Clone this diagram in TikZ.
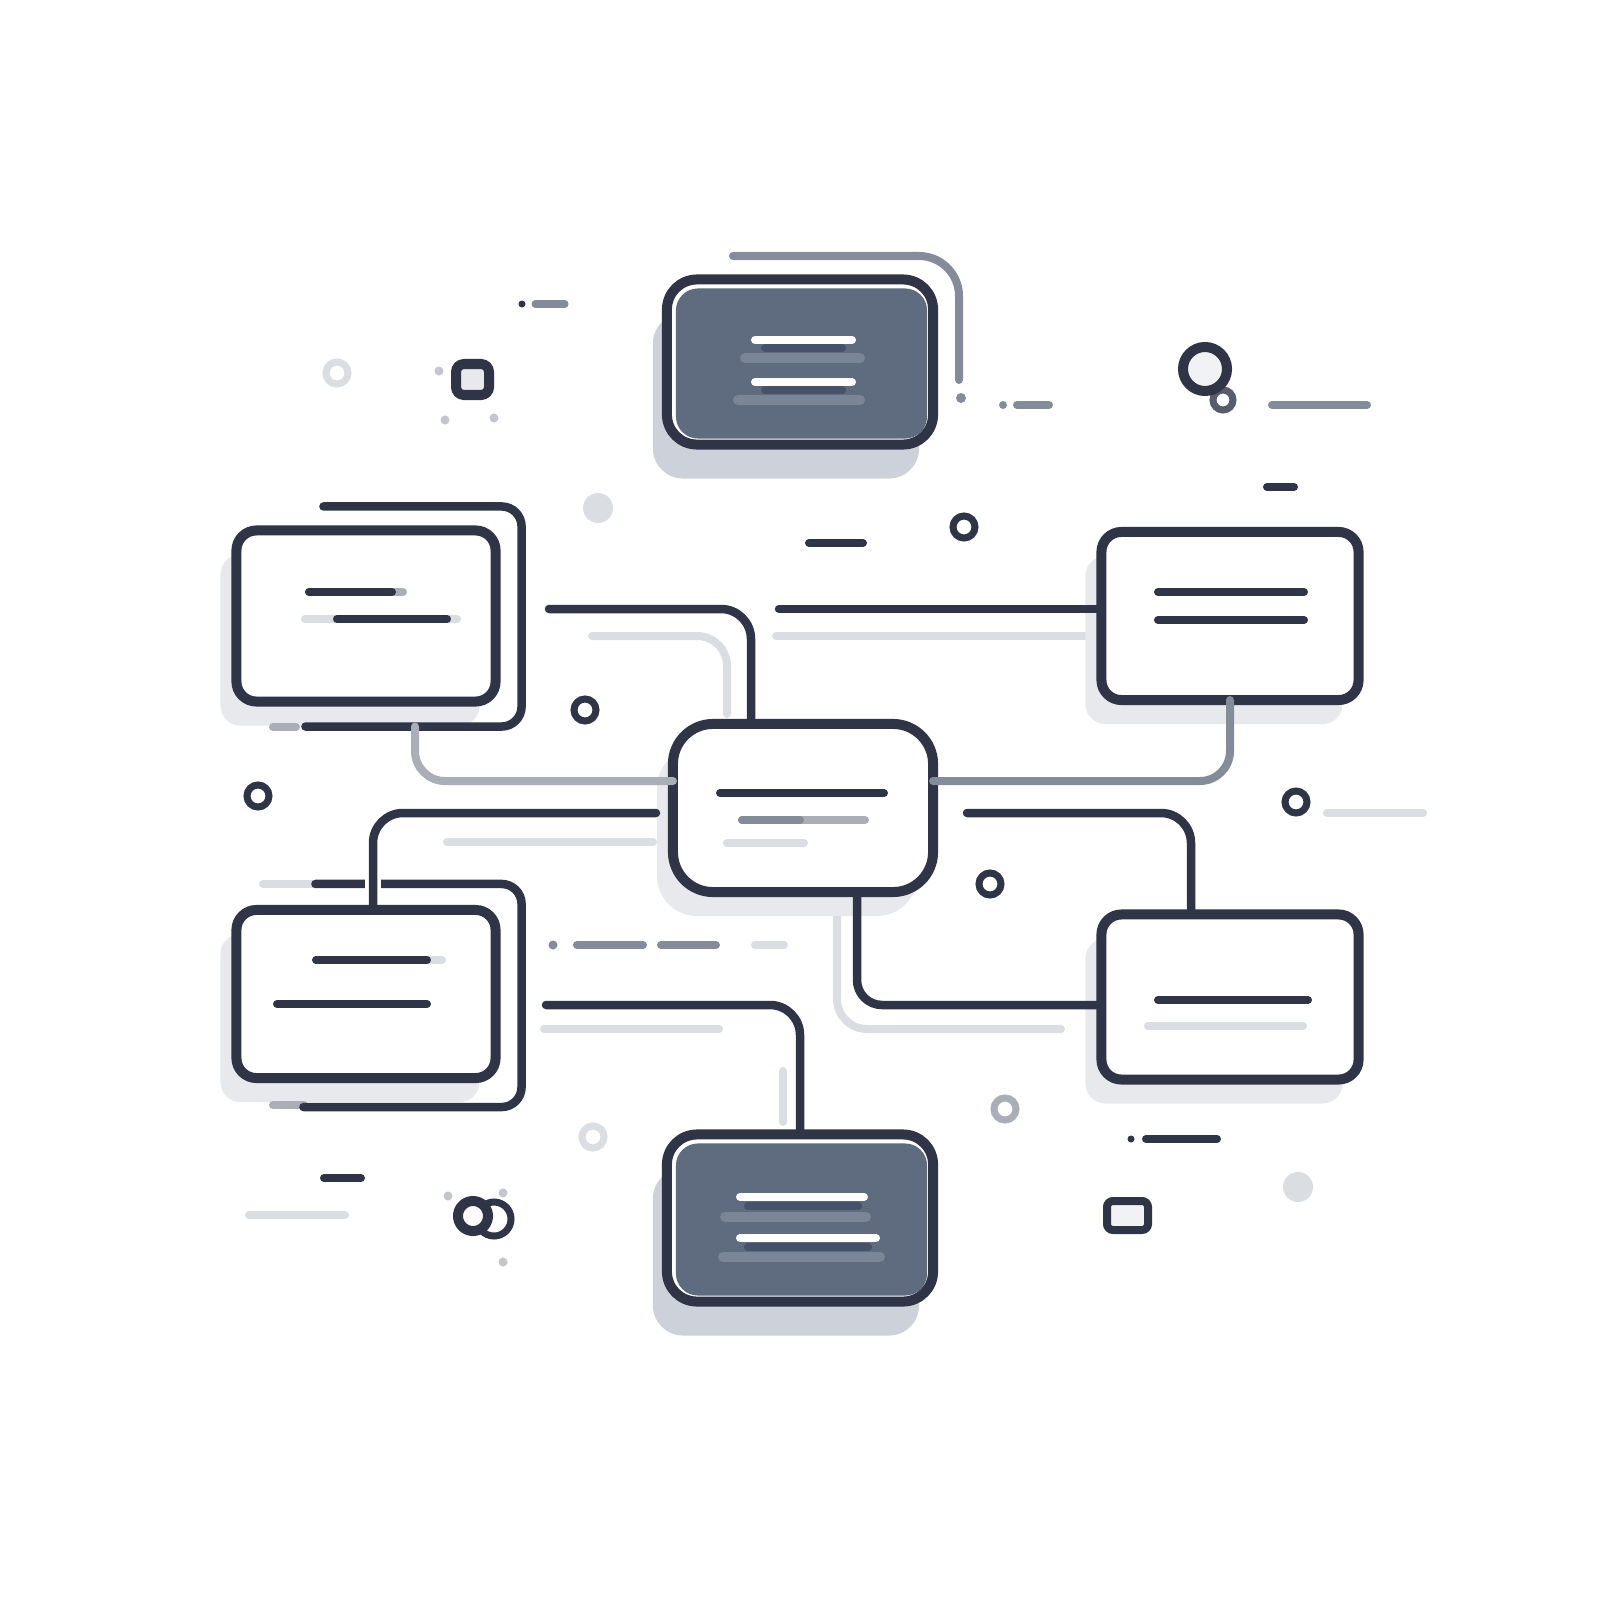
\documentclass[tikz,border=0pt]{standalone}
\usetikzlibrary{calc}
\definecolor{ink}{HTML}{2F3546}
\definecolor{slate}{HTML}{5F6B7E}
\definecolor{slatelt}{HTML}{7A8597}
\definecolor{slatedk}{HTML}{46516A}
\definecolor{mist}{HTML}{E7E9ED}
\definecolor{fog}{HTML}{CDD2DA}
\definecolor{pebble}{HTML}{858C99}
\definecolor{pebblelt}{HTML}{A9AEB7}
\definecolor{haze}{HTML}{DADDE2}
\begin{document}
\begin{tikzpicture}[x=0.01cm, y=-0.01cm, line cap=round,
    panel/.style={rectangle, draw=ink, fill=white, line width=0.1cm, outer sep=0pt, inner sep=0pt},
    card/.style={panel, rounded corners=0.2cm, preaction={fill=mist, transform canvas={shift={(-16,24)}}}},
    slab/.style={panel, rounded corners=0.3cm, preaction={fill=fog, transform canvas={shift={(-14,34)}}}},
    wire/.style={ink, line width=0.085cm, rounded corners=0.3cm},
    ghost/.style={haze, line width=0.08cm, rounded corners=0.3cm},
    bar/.style={ink, line width=0.08cm},
    ring/.style={line width=0.07cm}]
    \fill[white] (0,0) rectangle (1600,1600);
    \useasboundingbox (0,0) rectangle (1600,1600);

    \draw[ghost] (592,636) -| (727,714);
    \draw[ghost] (776,636) -- (1092,636);
    \draw[ghost] (447,842) -- (653,842);
    \draw[ghost] (837,905) |- (1061,1029);
    \draw[ghost] (544,1029) -- (719,1029);
    \draw[ghost] (783,1071) -- (783,1122);

    \node[slab, minimum width=2.66cm, minimum height=1.65cm] (t) at (800,362) {};
    \node[card, minimum width=2.59cm, minimum height=1.71cm] (l1) at (366,616) {};
    \node[card, minimum width=2.57cm, minimum height=1.68cm] (r1) at (1230,616) {};
    \node[card, rounded corners=0.4cm, minimum width=2.60cm, minimum height=1.68cm] (c) at (803,808) {};
    \node[card, minimum width=2.59cm, minimum height=1.68cm] (l2) at (366,994) {};
    \node[card, minimum width=2.57cm, minimum height=1.65cm] (r2) at (1230,997) {};
    \node[slab, minimum width=2.66cm, minimum height=1.67cm] (b) at (800,1218) {};

    \foreach \n in {t,b}
        \fill[slate, rounded corners=0.22cm] ($(\n.north west)+(9,9)$) rectangle ($(\n.south east)+(-6,-6)$);
    \draw[slatelt, line width=0.1cm] (745,358) -- (860,358) (738,400) -- (860,400)
        (725,1217) -- (866,1217) (723,1257) -- (880,1257);
    \draw[slatedk, line width=0.08cm] (765,348) -- (842,348) (765,390) -- (842,390)
        (748,1206) -- (858,1206) (748,1247) -- (868,1247);
    \draw[white, line width=0.08cm] (755,340) -- (852,340) (755,382) -- (852,382)
        (740,1197) -- (864,1197) (740,1238) -- (876,1238);

    \draw[haze, line width=0.08cm] (305,619) -- (457,619);
    \draw[pebblelt, line width=0.08cm] (309,592) -- (403,592);
    \draw[bar] (309,592) -- (392,592) (337,619) -- (447,619);
    \draw[bar] (1158,592) -- (1304,592) (1158,620) -- (1304,620);
    \draw[bar] (720,793) -- (884,793);
    \draw[pebblelt, line width=0.08cm] (742,820) -- (865,820);
    \draw[pebble, line width=0.08cm] (742,820) -- (800,820);
    \draw[haze, line width=0.08cm] (727,843) -- (804,843);
    \draw[haze, line width=0.08cm] (316,960) -- (442,960);
    \draw[bar] (316,960) -- (427,960) (277,1004) -- (427,1004);
    \draw[bar] (1158,1000) -- (1308,1000);
    \draw[haze, line width=0.08cm] (1148,1026) -- (1303,1026);

    \draw[pebblelt, line width=0.08cm] (273,727) -- (296,727);
    \draw[wire, rounded corners=0.2cm] ($(l1.north west)+(87,-24)$) -| ($(l1.south east)+(26,25)$) -- ($(l1.south west)+(69,25)$);
    \draw[haze, line width=0.08cm] (263,884) -- (316,884);
    \draw[pebblelt, line width=0.08cm] (273,1105) -- (304,1105);
    \draw[wire, rounded corners=0.2cm] ($(l2.north west)+(79,-26)$) -| ($(l2.south east)+(26,29)$) -- ($(l2.south west)+(67,29)$);
    \draw[pebble, line width=0.08cm, rounded corners=0.4cm] (733,256) -| (959,380);
    \fill[pebble] (961,398) circle [radius=0.05cm];

    \coordinate (a1) at (549,609);
    \coordinate (a2) at (779,609);
    \coordinate (a5) at (656,813);
    \coordinate (a6) at (967,813);
    \coordinate (a8) at (546,1005);
    \draw[wire] (a1) -| ($(c.north)+(-52,0)$);
    \draw[wire] (a2) -- (r1.west |- a2);
    \draw[pebblelt, line width=0.08cm, rounded corners=0.3cm] ($(l1.south)+(49,25)$) |- ($(c.west)+(0,-27)$);
    \draw[pebble, line width=0.08cm, rounded corners=0.3cm] (r1.south) |- ($(c.east)+(0,-27)$);
    \draw[white, line width=0.16cm, line cap=butt] ($(l2.north)+(7,-36)$) -- ($(l2.north)+(7,-14)$);
    \draw[wire] (a5) -| ($(l2.north)+(7,0)$);
    \draw[wire] (a6) -| ($(r2.north)+(-39,0)$);
    \draw[wire, rounded corners=0.25cm] ($(c.south)+(54,0)$) |- ($(r2.west)+(0,8)$);
    \draw[wire] (a8) -| (b.north);

    \foreach \p in {(964,527),(585,710),(258,796),(1296,802),(990,884)}
        \draw[ink, ring] \p circle [radius=0.11cm];
    \draw[pebblelt, ring] (1005,1109) circle [radius=0.11cm];
    \foreach \p in {(337,373),(593,1137)}
        \draw[haze, ring] \p circle [radius=0.11cm];
    \foreach \p in {(598,508),(1298,1187)}
        \fill[haze] \p circle [radius=0.15cm];
    \foreach \p in {(439,371),(445,420),(494,418),(448,1196),(503,1193),(503,1262)}
        \fill[pebblelt!70] \p circle [radius=0.045cm];

    \fill[ink] (522,304) circle [radius=0.035cm];
    \draw[pebble, line width=0.07cm] (535,304) -- (565,304);
    \draw[ink, line width=0.1cm, fill=mist, rounded corners=0.08cm] (456,364) rectangle (489,395);
    \draw[bar] (809,543) -- (863,543);
    \fill[pebble] (1003,405) circle [radius=0.04cm];
    \draw[pebble, line width=0.08cm] (1017,405) -- (1049,405);
    \draw[pebble, line width=0.08cm] (1272,405) -- (1367,405);
    \draw[ink!80, line width=0.07cm] (1223,400) circle [radius=0.1cm];
    \draw[ink, line width=0.1cm, fill=mist!60] (1205,369) circle [radius=0.22cm];
    \draw[bar] (1267,487) -- (1294,487);
    \draw[haze, line width=0.08cm] (1327,813) -- (1423,813);
    \fill[pebble] (553,945) circle [radius=0.045cm];
    \draw[pebble, line width=0.08cm] (577,945) -- (643,945) (661,945) -- (716,945);
    \draw[haze, line width=0.08cm] (755,945) -- (784,945);
    \fill[ink] (1131,1139) circle [radius=0.035cm];
    \draw[bar] (1146,1139) -- (1217,1139);
    \draw[ink, line width=0.08cm, fill=mist!60, rounded corners=0.06cm] (1107,1201) rectangle (1148,1230);
    \draw[bar] (324,1178) -- (361,1178);
    \draw[haze, line width=0.08cm] (249,1215) -- (345,1215);
    \draw[ink, line width=0.07cm] (494,1219) circle [radius=0.17cm];
    \draw[ink, line width=0.1cm, fill=white] (473,1216) circle [radius=0.15cm];
\end{tikzpicture}
\end{document}
